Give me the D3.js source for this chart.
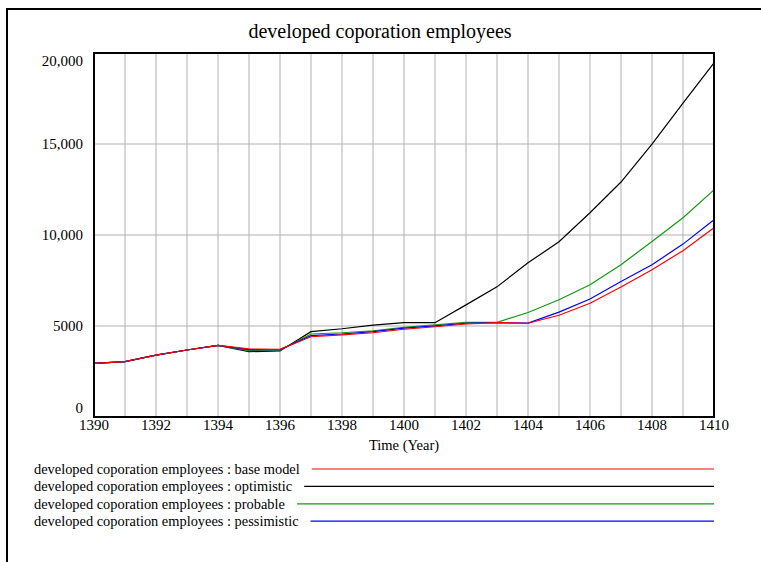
<!DOCTYPE html>
<html>
<head>
<meta charset="utf-8">
<script src="https://cdn.jsdelivr.net/npm/d3@7"></script>
<style>
  body { margin: 0; background: #fff; }
  svg { display: block; }
  svg text { font-family: "Liberation Serif", "Times New Roman", Times, "DejaVu Serif", serif; }
</style>
</head>
<body>
<svg id="chart" width="761" height="562"></svg>
<script>
const title = 'developed coporation employees';
const years = d3.range(1390, 1411);
const xTicks = [1390, 1392, 1394, 1396, 1398, 1400, 1402, 1404, 1406, 1408, 1410];
const yTicks = [0, 5000, 10000, 15000, 20000];
const yTickLabels = ['0', '5000', '10,000', '15,000', '20,000'];

const baseModel = [2950, 3040, 3400, 3680, 3940, 3740, 3720, 4410, 4510, 4630, 4820, 4960, 5110, 5180, 5150, 5590, 6250, 7140, 8090, 9140, 10400];
const optimistic = [2950, 3040, 3400, 3680, 3940, 3590, 3630, 4690, 4850, 5050, 5180, 5180, 6160, 7150, 8470, 9630, 11220, 12910, 14990, 17250, 19460];
const probable = [2950, 3040, 3400, 3680, 3940, 3650, 3670, 4560, 4630, 4740, 4930, 5070, 5200, 5200, 5740, 6440, 7270, 8370, 9640, 10950, 12480];
const pessimistic = [2950, 3040, 3400, 3680, 3940, 3700, 3700, 4470, 4560, 4690, 4880, 5010, 5150, 5180, 5160, 5760, 6480, 7450, 8370, 9500, 10840];

const series = [
  { name: 'base model', values: baseModel, color: '#ff0000' },
  { name: 'optimistic', values: optimistic, color: '#000000' },
  { name: 'probable', values: probable, color: '#119911' },
  { name: 'pessimistic', values: pessimistic, color: '#0000ff' }
];

const svg = d3.select('#chart');
const plotLeft = 94, plotRight = 714, plotTop = 53, plotBottom = 417;
const serif = '"Liberation Serif", "Times New Roman", Times, serif';

const x = d3.scaleLinear().domain([1390, 1410]).range([plotLeft, plotRight]);
const y = d3.scaleLinear().domain([0, 20000]).range([plotBottom, plotTop]);

// outer frame
svg.append('path')
  .attr('d', 'M7,562 V9 H761')
  .attr('fill', 'none')
  .attr('stroke', '#000')
  .attr('stroke-width', 2);

svg.append('text')
  .attr('x', 380)
  .attr('y', 38)
  .attr('text-anchor', 'middle')
  .attr('font-family', serif)
  .attr('font-size', 20)
  .text(title);

// grid
svg.append('g')
  .selectAll('line')
  .data(years)
  .enter()
  .append('line')
  .attr('x1', d => x(d))
  .attr('x2', d => x(d))
  .attr('y1', plotTop)
  .attr('y2', plotBottom)
  .attr('stroke', '#b0b0b0')
  .attr('stroke-width', 1);

svg.append('g')
  .selectAll('line')
  .data(yTicks)
  .enter()
  .append('line')
  .attr('x1', plotLeft)
  .attr('x2', plotRight)
  .attr('y1', d => y(d))
  .attr('y2', d => y(d))
  .attr('stroke', '#b0b0b0')
  .attr('stroke-width', 1);

// y labels
svg.append('g')
  .selectAll('text')
  .data(yTicks)
  .enter()
  .append('text')
  .attr('x', plotLeft - 11)
  .attr('y', d => Math.min(Math.max(y(d), plotTop + 8), plotBottom - 9))
  .attr('dy', '0.35em')
  .attr('text-anchor', 'end')
  .attr('font-family', serif)
  .attr('font-size', 15)
  .text((d, i) => yTickLabels[i]);

// x labels
svg.append('g')
  .selectAll('text')
  .data(xTicks)
  .enter()
  .append('text')
  .attr('x', d => x(d))
  .attr('y', plotBottom + 8)
  .attr('dy', '0.35em')
  .attr('text-anchor', 'middle')
  .attr('font-family', serif)
  .attr('font-size', 15)
  .text(d => d);

svg.append('text')
  .attr('x', 404)
  .attr('y', 445)
  .attr('dy', '0.35em')
  .attr('text-anchor', 'middle')
  .attr('font-family', serif)
  .attr('font-size', 14.5)
  .text('Time (Year)');

// lines, base model drawn last
const line = d3.line()
  .x((d, i) => x(years[i]))
  .y(d => y(d));

const drawOrder = [series[1], series[2], series[3], series[0]];
svg.append('g')
  .selectAll('path')
  .data(drawOrder)
  .enter()
  .append('path')
  .attr('d', d => line(d.values))
  .attr('fill', 'none')
  .attr('stroke', d => d.color)
  .attr('stroke-width', 1.2);

// plot frame
svg.append('rect')
  .attr('x', plotLeft)
  .attr('y', plotTop)
  .attr('width', plotRight - plotLeft)
  .attr('height', plotBottom - plotTop)
  .attr('fill', 'none')
  .attr('stroke', '#000')
  .attr('stroke-width', 2);

// legend
const legend = svg.append('g')
  .selectAll('g')
  .data(series)
  .enter()
  .append('g')
  .attr('transform', (d, i) => 'translate(34,' + (469 + i * 17.4) + ')');

legend.append('text')
  .attr('dy', '0.35em')
  .attr('font-family', serif)
  .attr('font-size', 14.4)
  .text(d => title + ' : ' + d.name);

legend.each(function(d) {
  const g = d3.select(this);
  const w = g.select('text').node().getComputedTextLength();
  g.append('line')
    .attr('x1', w + 12)
    .attr('x2', plotRight - 34)
    .attr('y1', 0)
    .attr('y2', 0)
    .attr('stroke', d.color)
    .attr('stroke-width', 1.2);
});
</script>
</body>
</html>
